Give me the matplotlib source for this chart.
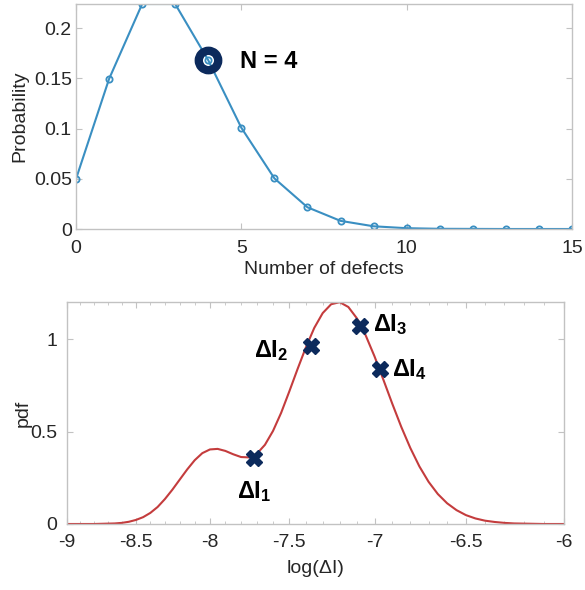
import matplotlib
matplotlib.use("Agg")
import numpy as np
import matplotlib.pyplot as plt
from matplotlib.ticker import MultipleLocator

plt.rcParams['font.family'] = ['Liberation Sans', 'DejaVu Sans']
plt.rcParams['mathtext.fontset'] = 'custom'
plt.rcParams['mathtext.rm'] = 'Liberation Sans'
plt.rcParams['mathtext.bf'] = 'Liberation Sans:bold'
plt.rcParams['mathtext.it'] = 'Liberation Sans:italic'

# ---- top panel data: probability vs number of defects ----
defects = [0, 1, 2, 3, 4, 5, 6, 7, 8, 9, 10, 11, 12, 13, 14, 15]
probability = [0.0498, 0.1494, 0.2240, 0.2240, 0.1680, 0.1008, 0.0504, 0.0216,
               0.0081, 0.0027, 0.0008, 0.0002, 0.0001, 0.0000, 0.0000, 0.0000]
highlight_n = 4
highlight_p = 0.1680
highlight_label = "N = 4"

# ---- bottom panel data: pdf vs log(dI) ----
log_di = [-9.00, -8.95, -8.90, -8.85, -8.80, -8.75, -8.70, -8.65, -8.60, -8.55,
          -8.50, -8.45, -8.40, -8.35, -8.30, -8.25, -8.20, -8.15, -8.10, -8.05,
          -8.00, -7.95, -7.90, -7.85, -7.80, -7.75, -7.70, -7.65, -7.60, -7.55,
          -7.50, -7.45, -7.40, -7.35, -7.30, -7.25, -7.20, -7.15, -7.10, -7.05,
          -7.00, -6.95, -6.90, -6.85, -6.80, -6.75, -6.70, -6.65, -6.60, -6.55,
          -6.50, -6.45, -6.40, -6.35, -6.30, -6.25, -6.20, -6.15, -6.10, -6.05,
          -6.00]
pdf = [0.000, 0.000, 0.000, 0.000, 0.000, 0.001, 0.002, 0.003, 0.006, 0.012,
       0.022, 0.037, 0.060, 0.092, 0.135, 0.185, 0.240, 0.295, 0.345, 0.383,
       0.403, 0.406, 0.395, 0.377, 0.362, 0.360, 0.380, 0.428, 0.503, 0.601,
       0.717, 0.838, 0.955, 1.060, 1.140, 1.188, 1.199, 1.173, 1.111, 1.019,
       0.906, 0.780, 0.650, 0.525, 0.411, 0.311, 0.228, 0.162, 0.112, 0.075,
       0.048, 0.030, 0.018, 0.011, 0.006, 0.003, 0.002, 0.001, 0.000, 0.000,
       0.000]
mark_x = [-7.72, -7.37, -7.08, -6.97]
mark_y = [0.357, 0.960, 1.070, 0.840]
mark_labels = [r'$\mathbf{\Delta I}_\mathbf{1}$', r'$\mathbf{\Delta I}_\mathbf{2}$',
               r'$\mathbf{\Delta I}_\mathbf{3}$', r'$\mathbf{\Delta I}_\mathbf{4}$']

W, H = 585, 590
fig = plt.figure(figsize=(W / 100, H / 100), dpi=100)

def ax_rect(l, t, r, b):
    return [l / W, 1 - b / H, (r - l) / W, (b - t) / H]

spine_c = '#c2c2c2'
text_c = '#262626'
navy = '#0c2a5c'

def style(ax):
    for s in ax.spines.values():
        s.set_color(spine_c)
        s.set_linewidth(1.0)
    ax.tick_params(which='both', direction='in', top=True, right=True,
                   color=spine_c, labelcolor=text_c, labelsize=14)
    ax.tick_params(which='major', length=4)
    ax.tick_params(which='minor', length=2)

# top
ax1 = fig.add_axes(ax_rect(76, 4, 572, 229))
ax1.plot(defects, probability, '-o', color='#3a8fc2', lw=1.5, ms=4.5,
         mfc='none', mec='#3a8fc2', mew=1.3)
ax1.plot([highlight_n], [highlight_p], 'o', ms=14, mfc='none', mec=navy, mew=6)
ax1.text(4.95, 0.167, highlight_label, fontsize=17, fontweight='bold',
         color='black', va='center', ha='left')
ax1.set_xlim(0, 15)
ax1.set_ylim(0, 0.224)
ax1.set_xticks([0, 5, 10, 15])
ax1.set_yticks([0, 0.05, 0.1, 0.15, 0.2])
ax1.set_yticklabels(['0', '0.05', '0.1', '0.15', '0.2'])
style(ax1)
ax1.tick_params(axis='x', pad=8)
ax1.tick_params(axis='y', pad=3)
ax1.set_xlabel('Number of defects', fontsize=14, color=text_c, labelpad=3)
ax1.set_ylabel('Probability', fontsize=14, color=text_c, labelpad=4)

# bottom (the reference's x axis is slightly stretched toward the right)
K = 0.1409

def fwd(v):
    return np.exp(K * (np.asarray(v, dtype=float) + 9))

def inv(y):
    return np.log(np.clip(np.asarray(y, dtype=float), 1e-9, None)) / K - 9

ax2 = fig.add_axes(ax_rect(67, 302, 564, 524))
ax2.set_xscale('function', functions=(fwd, inv))
ax2.plot(log_di, pdf, '-', color='#c43c3d', lw=1.5)
ax2.plot(mark_x, mark_y, 'X', ms=12, color=navy, mec=navy, ls='none')
offsets = [(0, -24), (-16, -3), (9, 1), (9, -1)]
has = ['center', 'right', 'left', 'left']
for x, y, lab, off, ha in zip(mark_x, mark_y, mark_labels, offsets, has):
    ax2.annotate(lab, (x, y), xytext=off, textcoords='offset points',
                 fontsize=17, ha=ha, va='center', color='black')
ax2.set_xlim(-9, -6)
ax2.set_ylim(0, 1.2)
ax2.set_xticks([-9, -8.5, -8, -7.5, -7, -6.5, -6])
ax2.set_xticklabels(['-9', '-8.5', '-8', '-7.5', '-7', '-6.5', '-6'])
ax2.set_yticks([0, 0.5, 1])
ax2.set_yticklabels(['0', '0.5', '1'])
ax2.xaxis.set_minor_locator(MultipleLocator(0.1))
style(ax2)
ax2.tick_params(axis='x', pad=7)
ax2.tick_params(axis='y', pad=7)
ax2.set_xlabel('log(ΔI)', fontsize=14, color=text_c, labelpad=6.5)
ax2.set_ylabel('pdf', fontsize=14, color=text_c, labelpad=-1)

fig.savefig('out.png', dpi=100)
